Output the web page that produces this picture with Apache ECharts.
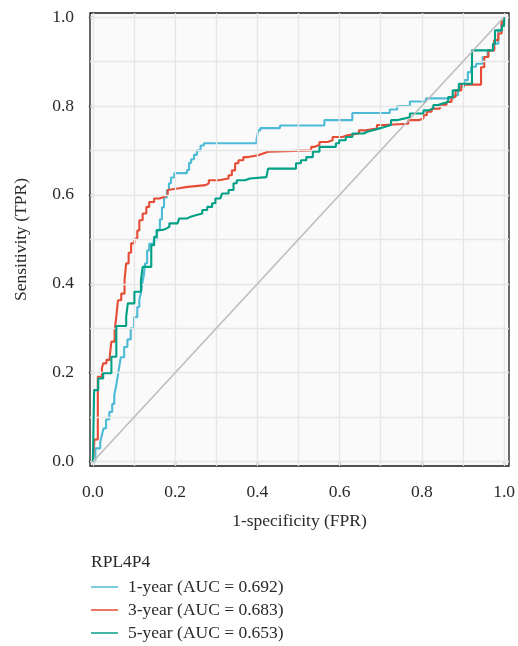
<!DOCTYPE html>
<html>
<head>
<meta charset="utf-8">
<script src="https://cdn.jsdelivr.net/npm/echarts@6/dist/echarts.min.js"></script>
<style>html,body{margin:0;padding:0;background:#fff}#c{width:518px;height:646px}</style>
</head>
<body>
<div id="c"></div>
<script>
// ---- data ----
const tickValues = [0, 0.2, 0.4, 0.6, 0.8, 1.0];
const gridValues = [0, 0.1, 0.2, 0.3, 0.4, 0.5, 0.6, 0.7, 0.8, 0.9, 1.0];
const legendTitle = 'RPL4P4';
const seriesNames = ['1-year (AUC = 0.692)', '3-year (AUC = 0.683)', '5-year (AUC = 0.653)'];

const fpr1 = [0,0.006,0.018,0.022,0.026,0.032,0.04,0.047,0.052,0.056,0.06,0.064,0.068,0.076,0.084,0.092,0.1,0.108,0.113,0.117,0.12,0.124,0.127,0.132,0.137,0.148,0.156,0.163,0.168,0.173,0.18,0.185,0.19,0.198,0.229,0.234,0.239,0.246,0.253,0.262,0.27,0.398,0.402,0.407,0.455,0.563,0.631,0.722,0.74,0.771,0.81,0.876,0.888,0.892,0.903,0.912,0.92,0.932,0.948,0.96,0.976,0.986,0.994,1];
const tpr1 = [0,0.03,0.045,0.06,0.075,0.095,0.112,0.13,0.15,0.168,0.19,0.213,0.235,0.258,0.275,0.3,0.325,0.348,0.365,0.38,0.4,0.42,0.446,0.475,0.49,0.5,0.52,0.545,0.572,0.594,0.611,0.626,0.639,0.649,0.656,0.672,0.68,0.69,0.7,0.711,0.716,0.723,0.745,0.75,0.756,0.768,0.784,0.792,0.8,0.81,0.817,0.824,0.831,0.843,0.858,0.876,0.888,0.895,0.91,0.925,0.94,0.97,0.985,1];

const fpr3 = [0,0.004,0.012,0.022,0.025,0.033,0.041,0.045,0.053,0.057,0.061,0.069,0.077,0.081,0.087,0.093,0.101,0.108,0.113,0.121,0.13,0.137,0.149,0.162,0.174,0.182,0.186,0.21,0.23,0.274,0.282,0.306,0.33,0.338,0.346,0.354,0.366,0.378,0.402,0.414,0.426,0.531,0.539,0.551,0.571,0.583,0.607,0.619,0.647,0.663,0.691,0.707,0.767,0.792,0.804,0.812,0.824,0.844,0.86,0.872,0.882,0.896,0.944,0.952,0.962,0.976,0.986,0.994,1];
const tpr3 = [0,0.05,0.191,0.21,0.221,0.229,0.236,0.27,0.296,0.326,0.363,0.378,0.408,0.446,0.47,0.491,0.502,0.52,0.543,0.558,0.573,0.584,0.592,0.596,0.6,0.611,0.615,0.618,0.622,0.626,0.633,0.637,0.644,0.655,0.671,0.678,0.685,0.689,0.693,0.697,0.7,0.708,0.712,0.719,0.723,0.73,0.734,0.738,0.745,0.749,0.757,0.76,0.768,0.772,0.779,0.787,0.794,0.802,0.809,0.82,0.835,0.848,0.887,0.91,0.925,0.948,0.963,0.99,1];

const fpr5 = [0,0.003,0.013,0.025,0.045,0.057,0.081,0.085,0.101,0.117,0.121,0.142,0.149,0.155,0.169,0.178,0.186,0.206,0.21,0.23,0.238,0.25,0.266,0.278,0.29,0.298,0.31,0.314,0.33,0.342,0.35,0.37,0.382,0.422,0.426,0.494,0.506,0.519,0.535,0.551,0.591,0.599,0.615,0.631,0.659,0.667,0.679,0.695,0.711,0.725,0.739,0.759,0.771,0.804,0.816,0.828,0.84,0.848,0.864,0.875,0.89,0.922,0.973,0.978,0.995,1];
const tpr5 = [0,0.161,0.187,0.199,0.236,0.305,0.326,0.356,0.382,0.408,0.438,0.487,0.506,0.521,0.524,0.528,0.536,0.539,0.547,0.551,0.554,0.558,0.566,0.573,0.581,0.592,0.596,0.603,0.611,0.626,0.633,0.637,0.64,0.644,0.659,0.671,0.678,0.685,0.697,0.708,0.716,0.723,0.73,0.738,0.742,0.745,0.749,0.753,0.757,0.768,0.772,0.775,0.783,0.79,0.794,0.802,0.805,0.809,0.82,0.835,0.85,0.925,0.94,0.97,0.98,1];

const diagX = [0, 1];
const diagY = [0, 1];

const colors = ['#4DBBD5', '#E64B35', '#00A087'];
const FONT = '"Liberation Serif", "DejaVu Serif", serif';
const FS = 17.5;
const TXT = '#2a2a2a';

const pairs = (xs, ys) => xs.map((x, i) => [x, ys[i]]);

const chart = echarts.init(document.getElementById('c'));
const gridLineStyle = { color: '#e6e6e6', width: 1.3, type: 'solid' };

chart.setOption({
  animation: false,
  backgroundColor: '#ffffff',
  color: colors,
  title: {
    text: legendTitle, left: 91, top: 553, padding: 0,
    textStyle: { fontFamily: FONT, fontSize: FS, fontWeight: 'normal', color: TXT }
  },
  legend: {
    orient: 'vertical', left: 91, top: 577, padding: 0, height: 69,
    icon: 'rect', itemWidth: 27, itemHeight: 1.5, itemGap: 3,
    data: seriesNames,
    textStyle: { fontFamily: FONT, fontSize: FS, color: TXT, lineHeight: 20, padding: [0, 0, 0, 5] }
  },
  grid: {
    left: 90, top: 13, width: 423, height: 453,
    show: true, backgroundColor: '#fafafa', borderColor: '#1a1a1a', borderWidth: 1.3
  },
  xAxis: {
    type: 'value', min: -0.007, max: 1.012,
    name: '1-specificity (FPR)', nameLocation: 'middle', nameGap: 46,
    nameTextStyle: { fontFamily: FONT, fontSize: FS, color: TXT },
    axisLine: { show: false },
    axisTick: { show: true, customValues: tickValues, length: 4, lineStyle: { color: '#1a1a1a', width: 1.3 } },
    axisLabel: { customValues: tickValues, formatter: v => v.toFixed(1), margin: 17,
      fontFamily: FONT, fontSize: FS, color: TXT },
    splitLine: { show: false }
  },
  yAxis: {
    type: 'value', min: -0.0097, max: 1.009,
    name: 'Sensitivity (TPR)', nameLocation: 'middle', nameGap: 60,
    nameTextStyle: { fontFamily: FONT, fontSize: FS, color: TXT },
    axisLine: { show: false },
    axisTick: { show: true, customValues: tickValues, length: 4, lineStyle: { color: '#1a1a1a', width: 1.3 } },
    axisLabel: { customValues: tickValues, formatter: v => v.toFixed(1), margin: 16,
      fontFamily: FONT, fontSize: FS, color: TXT },
    splitLine: { show: false }
  },
  series: [
    {
      type: 'line', name: '_grid', data: [], silent: true, z: 1,
      markLine: {
        silent: true, symbol: ['none', 'none'], label: { show: false },
        lineStyle: gridLineStyle, animation: false,
        data: gridValues.map(v => ({ xAxis: v })).concat(gridValues.map(v => ({ yAxis: v })))
      }
    },
    { type: 'line', name: seriesNames[0], data: pairs(fpr1, tpr1), step: 'end', showSymbol: false, symbol: 'none', z: 3,
      lineStyle: { color: colors[0], width: 2.1 }, itemStyle: { color: colors[0] } },
    { type: 'line', name: seriesNames[1], data: pairs(fpr3, tpr3), step: 'end', showSymbol: false, symbol: 'none', z: 4,
      lineStyle: { color: colors[1], width: 2.1 }, itemStyle: { color: colors[1] } },
    { type: 'line', name: seriesNames[2], data: pairs(fpr5, tpr5), step: 'end', showSymbol: false, symbol: 'none', z: 5,
      lineStyle: { color: colors[2], width: 2.1 }, itemStyle: { color: colors[2] } },
    { type: 'line', name: '_diag', data: pairs(diagX, diagY), showSymbol: false, symbol: 'none', z: 6, silent: true,
      lineStyle: { color: '#bdbdbd', width: 1.6 } }
  ]
});
</script>
</body>
</html>
